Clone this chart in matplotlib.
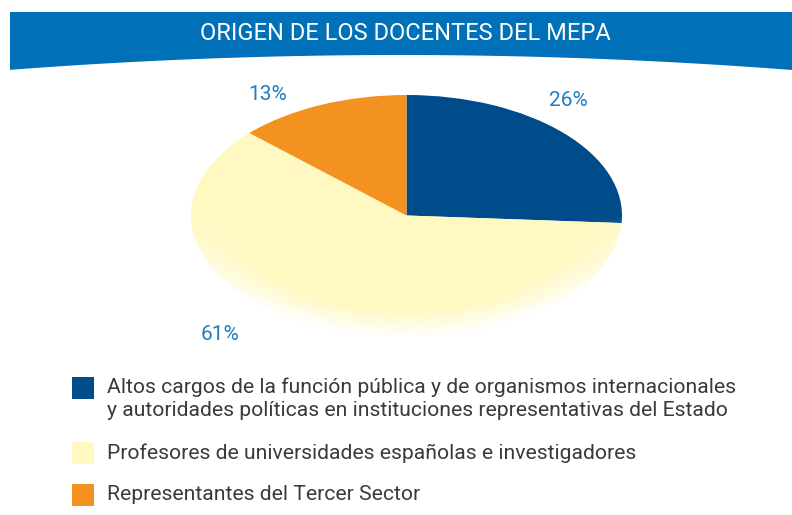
import numpy as np
import matplotlib
matplotlib.use("Agg")
import matplotlib.pyplot as plt
from matplotlib.patches import Polygon, Rectangle, Circle

# data
title = "ORIGEN DE LOS DOCENTES DEL MEPA"
categories = [
    "Altos cargos de la función pública y de organismos internacionales\ny autoridades políticas en instituciones representativas del Estado",
    "Profesores de universidades españolas e investigadores",
    "Representantes del Tercer Sector",
]
shares = [26, 61, 13]
pct_labels = ["26%", "61%", "13%"]
colors = ["#004b8a", "#fff8c0", "#f39220"]

plt.rcParams['font.family'] = ['Roboto', 'DejaVu Sans']

fig = plt.figure(figsize=(7.92, 5.15), dpi=100)
W, H = 792, 515

# background axes in pixel coords
bg = fig.add_axes([0, 0, 1, 1])
bg.set_xlim(0, W)
bg.set_ylim(H, 0)
bg.axis('off')

# header banner with curved bottom
xs = np.linspace(10, W, 200)
xc = 400
bottom = 55 + 15 * ((xs - xc) / (W - xc)) ** 2
pts = [(10, 12), (W, 12)] + list(zip(xs[::-1], bottom[::-1]))
bg.add_patch(Polygon(pts, closed=True, color="#0070b8", lw=0))
bg.text(405, 34, title, color="white", fontsize=17, ha="center", va="center")

# pie axes placed over the ellipse area
left, right, top, bot = 191, 622, 95, 336
ax = fig.add_axes([left / W, 1 - bot / H, (right - left) / W, (bot - top) / H])
wedges, _ = ax.pie(shares, colors=colors, startangle=90, counterclock=False,
                   wedgeprops=dict(lw=0))
ax.set_aspect('auto')
ax.set_xlim(-1, 1)
ax.set_ylim(-1, 1)
ax.axis('off')

# soft fade toward the bottom rim
gx, gy = np.meshgrid(np.linspace(-1, 1, 300), np.linspace(1, -1, 300))
r = np.sqrt(gx ** 2 + gy ** 2)
alpha = np.clip((r - 0.78) / 0.22, 0, 1) * np.clip(-gy / 0.8, 0, 1) * 0.95
img = np.ones((300, 300, 4))
img[..., 3] = alpha
im = ax.imshow(img, extent=(-1, 1, -1, 1), zorder=3, aspect='auto')
im.set_clip_path(Circle((0, 0), 1, transform=ax.transData))

# percentage labels
label_pos = [(568, 100), (220, 334), (268, 94)]
for (px, py), lab in zip(label_pos, pct_labels):
    bg.text(px, py, lab, color="#1f7cc1", fontsize=15, ha="center", va="center")

# legend
leg_y = [388, 453, 495]
for y, c, lab in zip(leg_y, colors, categories):
    bg.add_patch(Rectangle((72, y - 11), 22, 22, color=c, lw=0))
    if "\n" in lab:
        bg.text(107, y - 11, lab, color="#3a3a3a", fontsize=15.2, ha="left",
                va="top", linespacing=1.3)
    else:
        bg.text(107, y, lab, color="#3a3a3a", fontsize=15.2, ha="left", va="center")

fig.savefig("out.png", dpi=100)
